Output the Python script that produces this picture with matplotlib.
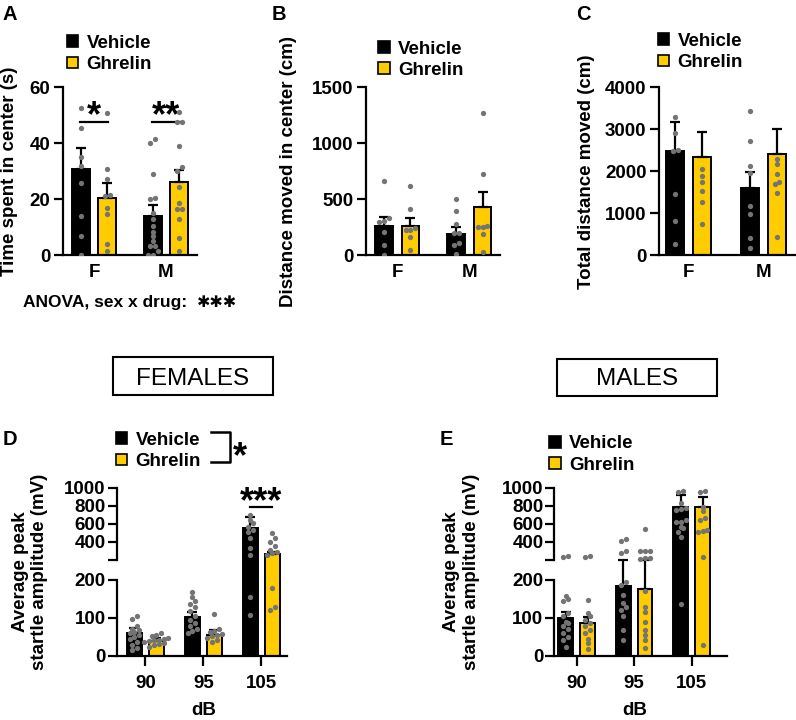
import numpy as np
import matplotlib.pyplot as plt
from matplotlib.patches import Patch, Rectangle
from matplotlib.lines import Line2D
from matplotlib.transforms import blended_transform_factory

# ---- A: time spent in center (s)
sexes = ['F', 'M']
time_veh = [30.7, 14.0]
time_veh_sem = [7.5, 4.0]
time_ghr = [20.6, 26.3]
time_ghr_sem = [5.4, 4.2]
time_veh_pts = [[52.5, 45.5, 35, 32, 26, 14, 7, 0],
                [41.5, 40.2, 29, 20.5, 20, 15, 12.9, 10.5, 8.4, 6.8, 5.1, 3.3, 3.3, 1.5, 0, 0]]
time_ghr_pts = [[50.7, 31, 27.3, 21.5, 21.3, 17, 14.6, 3.9, 1.6],
                [51.3, 47.7, 47.5, 39, 31.4, 30.2, 24.5, 18.8, 16.5, 16.5, 12.9, 6.3, 1.6]]

# ---- B: distance moved in center (cm)
dist_veh = [262, 190]
dist_veh_sem = [77, 60]
dist_ghr = [262, 429]
dist_ghr_sem = [68, 133]
dist_veh_pts = [[667, 330, 310, 300, 210, 92, 5],
                [500, 395, 280, 200, 195, 110, 95, 10]]
dist_ghr_pts = [[620, 415, 240, 230, 225, 165, 50],
                [1275, 730, 260, 255, 250, 190, 30]]

# ---- C: total distance moved (cm)
total_veh = [2492, 1611]
total_veh_sem = [691, 381]
total_ghr = [2349, 2421]
total_ghr_sem = [595, 579]
total_veh_pts = [[3300, 2920, 2510, 2480, 1470, 810, 260],
                 [3430, 2720, 2135, 1950, 1175, 985, 420, 170]]
total_ghr_pts = [[2060, 1890, 1750, 1530, 1270, 740],
                 [2290, 2175, 1930, 1750, 1700, 1475, 445]]

# ---- D/E: startle amplitude (mV)
db = ['90', '95', '105']
fem_veh = [59.6, 101.8, 550]
fem_veh_sem = [13.2, 14.9, 121]
fem_ghr = [40.4, 55.3, 266]
fem_ghr_sem = [6.1, 13.1, 26]
fem_veh_pts = [[104, 97, 78, 72, 68, 64, 60, 55, 50, 45, 38, 30, 22, 15],
               [168, 155, 145, 137, 128, 118, 105, 95, 88, 78, 70, 65, 60],
               [696, 641, 605, 560, 531, 512, 439, 329, 255, 156, 108]]
fem_ghr_pts = [[60, 55, 52, 48, 45, 43, 41, 40, 38, 35, 32, 28, 25],
               [110, 70, 65, 62, 58, 55, 52, 48, 42, 36],
               [494, 439, 402, 354, 310, 292, 280, 255, 178, 130, 120]]

male_veh = [99, 184, 788]
male_veh_sem = [17.7, 21, 129]
male_ghr = [86, 176, 788]
male_ghr_sem = [17.5, 28, 110]
male_veh_pts = [[240, 236, 158, 150, 145, 112, 104, 90, 86, 78, 70, 60, 50, 42, 25],
                [432, 414, 300, 275, 196, 187, 160, 139, 130, 121, 104, 68, 42],
                [965, 945, 830, 770, 760, 750, 640, 620, 615, 560, 550, 510, 455, 137]]
male_ghr_pts = [[245, 232, 147, 112, 104, 95, 88, 80, 68, 60, 46, 33, 18],
                [539, 300, 298, 296, 220, 218, 216, 170, 130, 115, 90, 68, 55, 42, 20],
                [965, 945, 790, 740, 660, 640, 530, 520, 510, 230, 29]]

W, H = 796, 720
YELLOW = '#FFCC00'
GREY = '#747474'
LW = 1.6
FS = 13.5

plt.rcParams['font.family'] = ['Liberation Sans', 'DejaVu Sans']
plt.rcParams['font.weight'] = 'bold'
plt.rcParams['axes.labelweight'] = 'bold'
plt.rcParams['axes.linewidth'] = LW
plt.rcParams['xtick.major.width'] = LW
plt.rcParams['ytick.major.width'] = LW

fig = plt.figure(figsize=(W / 100, H / 100), dpi=100)


def rect(x0, y0, x1, y1):
    # pixel box, origin top-left -> figure fraction
    return [x0 / W, 1 - y1 / H, (x1 - x0) / W, (y1 - y0) / H]


def fxy(x, y):
    return x / W, 1 - y / H


# broken y axis for the startle panels: 0-200 below, 200-1000 above the gap
BRK_V = [0, 200, 200.001, 1000, 2000]
BRK_D = [0, 76, 96, 168.5, 259.1]


def fwd(v):
    return np.interp(v, BRK_V, BRK_D)


def inv(d):
    return np.interp(d, BRK_D, BRK_V)


def swarm(ax, xc, vals, d=4.8):
    vals = np.asarray(vals, float)
    ys = ax.transData.transform(np.column_stack([np.full(len(vals), xc), vals]))[:, 1]
    ppu = ax.transData.transform([[1, 0]])[0, 0] - ax.transData.transform([[0, 0]])[0, 0]
    offs = np.zeros(len(vals))
    groups = []
    for i in np.argsort(ys):
        if groups and ys[i] - ys[groups[-1][0]] < d * 0.9:
            groups[-1].append(i)
        else:
            groups.append([i])
    for g in groups:
        for j, i in enumerate(g):
            offs[i] = (j - (len(g) - 1) / 2) * d
    ax.plot(xc + offs / ppu, vals, 'o', ms=3.8, color=GREY, mec='none', zorder=4)


def bars(ax, veh, veh_sem, ghr, ghr_sem, veh_pts, ghr_pts, off, width):
    x = np.arange(len(veh))
    for xs, m, s, pts, col in ((x - off, veh, veh_sem, veh_pts, 'k'),
                               (x + off, ghr, ghr_sem, ghr_pts, YELLOW)):
        ax.bar(xs, m, width, color=col, edgecolor='k', linewidth=1.4, zorder=2)
        ax.errorbar(xs, m, yerr=[np.zeros(len(m)), s], fmt='none', ecolor='k',
                    elinewidth=1.6, capsize=3.6, capthick=1.6, zorder=3)
        for xi, p in zip(xs, pts):
            swarm(ax, xi, p)


def legend(ax, x, y):
    h = [Patch(facecolor='k', edgecolor='k', lw=1.2),
         Patch(facecolor=YELLOW, edgecolor='k', lw=1.2)]
    ax.legend(h, ['Vehicle', 'Ghrelin'], loc='upper left', bbox_to_anchor=fxy(x, y),
              bbox_transform=fig.transFigure, frameon=False, borderpad=0, borderaxespad=0,
              handlelength=0.6, handleheight=0.6, handletextpad=0.45, labelspacing=0.22,
              prop={'weight': 'bold', 'size': FS})


def style(ax):
    for s in ('top', 'right'):
        ax.spines[s].set_visible(False)
    ax.tick_params(axis='y', length=6.5, pad=2.5, labelsize=FS)


# ---------- top row
top = [
    (rect(62.7, 87.3, 196.7, 255.3), (-0.435, 1.426), (0, 60), [0, 20, 40, 60],
     time_veh, time_veh_sem, time_ghr, time_ghr_sem, time_veh_pts, time_ghr_pts,
     'Time spent in center (s)', -0.331, (66.7, 35), 'A', 10),
    (rect(366, 87.3, 500, 255.3), (-0.435, 1.426), (0, 1500), [0, 500, 1000, 1500],
     dist_veh, dist_veh_sem, dist_ghr, dist_ghr_sem, dist_veh_pts, dist_ghr_pts,
     'Distance moved in center (cm)', -0.517, (378.3, 40.5), 'B', 279),
    (rect(659, 87.3, 795, 255.3), (-0.40, 1.425), (0, 4000), [0, 1000, 2000, 3000, 4000],
     total_veh, total_veh_sem, total_ghr, total_ghr_sem, total_veh_pts, total_ghr_pts,
     'Total distance moved (cm)', -0.47, (658, 33), 'C', 583),
]
axes_top = []
for (r, xl, yl, yt, v, vs, g, gs, vp, gp, lab, lx, lpos, letter, letx) in top:
    ax = fig.add_axes(r)
    style(ax)
    ax.set_xlim(*xl)
    ax.set_ylim(*yl)
    ax.set_yticks(yt)
    ax.set_xticks(range(len(sexes)))
    ax.set_xticklabels(sexes)
    ax.tick_params(axis='x', length=0, pad=6.5, labelsize=FS)
    bars(ax, v, vs, g, gs, vp, gp, 0.183, 0.243)
    ax.set_ylabel(lab, fontsize=FS)
    ax.yaxis.set_label_coords(lx, 0.5)
    legend(ax, *lpos)
    fig.text(*fxy(letx, 20), letter, fontsize=FS + 1, weight='bold', ha='center', va='baseline')
    axes_top.append(ax)

# significance, panel A
axA = axes_top[0]
for xc, star in ((0, '*'), (1, '**')):
    axA.plot([xc - 0.19, xc + 0.19], [47.5, 47.5], color='k', lw=1.6)
    axA.text(xc, 55.8, star, ha='center', va='top', fontsize=26, weight='bold')

fig.text(*fxy(23, 306.7), 'ANOVA, sex x drug:', fontsize=12.5, weight='bold', va='baseline')
fig.text(*fxy(196.7, 306.7), '\u2731\u2731\u2731', family='DejaVu Sans', fontsize=11.5, va='baseline')

# ---------- section headers
for x0, x1, y0, y1, txt in ((113, 273, 357, 395, 'FEMALES'), (557, 717, 359, 396, 'MALES')):
    fig.add_artist(Rectangle(fxy(x0, y1), (x1 - x0) / W, (y1 - y0) / H, fill=False,
                             lw=1.5, ec='k', transform=fig.transFigure))
    fig.text(*fxy((x0 + x1) / 2, 385), txt, fontsize=17.5, weight='normal',
             ha='center', va='baseline')

# ---------- bottom row
bottom = [
    (rect(116.7, 487.5, 287.3, 656), (-0.497, 2.45), fem_veh, fem_veh_sem, fem_ghr,
     fem_ghr_sem, fem_veh_pts, fem_ghr_pts, -0.40, 0.508, (115.7, 432), 'D', 10),
    (rect(554.3, 487.5, 726.7, 656), (-0.39, 2.61), male_veh, male_veh_sem, male_ghr,
     male_ghr_sem, male_veh_pts, male_ghr_pts, -0.431, 0.468, (549.3, 435.5), 'E', 446.7),
]
axes_bot = []
for (r, xl, v, vs, g, gs, vp, gp, lx, dbx, lpos, letter, letx) in bottom:
    ax = fig.add_axes(r)
    style(ax)
    ax.set_yscale('function', functions=(fwd, inv))
    ax.set_xlim(*xl)
    ax.set_ylim(0, 1000)
    ax.set_yticks([0, 100, 200, 200.001, 400, 600, 800, 1000])
    ax.set_yticklabels(['0', '100', '200', '', '400', '600', '800', '1000'])
    ax.yaxis.set_minor_locator(plt.NullLocator())
    ax.tick_params(axis='y', length=6.3, pad=1.5)
    ax.spines['left'].set_visible(False)
    tr = blended_transform_factory(ax.transAxes, ax.transData)
    for lo, hi in ((0, 200), (200.001, 1000)):
        ax.plot([0, 0], [lo, hi], transform=tr, color='k', lw=LW, clip_on=False,
                solid_capstyle='projecting')
    ax.set_xticks(range(len(db)))
    ax.set_xticklabels(db)
    ax.tick_params(axis='x', length=7, pad=7, labelsize=FS)
    bars(ax, v, vs, g, gs, vp, gp, 0.19, 0.255)
    ax.set_ylabel('Average peak\nstartle amplitude (mV)', fontsize=FS)
    ax.yaxis.set_label_coords(lx, 0.5)
    ax.set_xlabel('dB', fontsize=FS)
    ax.xaxis.set_label_coords(dbx, -0.271)
    legend(ax, *lpos)
    fig.text(*fxy(letx, 445), letter, fontsize=FS + 1, weight='bold', ha='center', va='baseline')
    axes_bot.append(ax)

# significance, panel D
axD = axes_bot[0]
axD.plot([2 - 0.19, 2 + 0.19], [788, 788], color='k', lw=1.6)
axD.text(2, 1027, '***', ha='center', va='top', fontsize=26, weight='bold')
px = [(211, 432.3), (230, 432.3), (230, 461.7), (211, 461.7)]
fig.add_artist(Line2D([fxy(*p)[0] for p in px], [fxy(*p)[1] for p in px],
                      color='k', lw=1.8, transform=fig.transFigure))
fig.text(*fxy(240, 440), '*', ha='center', va='top', fontsize=26, weight='bold')

fig.savefig('out.png', dpi=100)
